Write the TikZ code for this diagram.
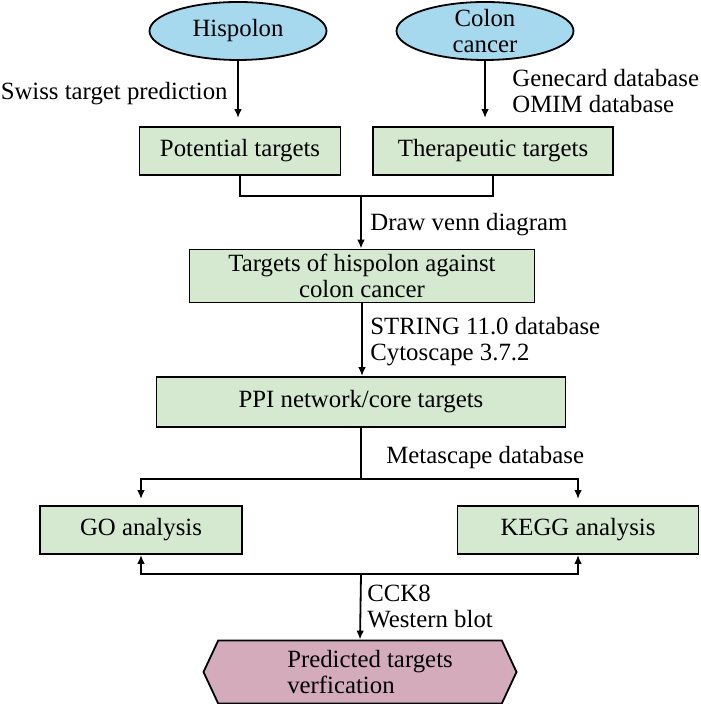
\documentclass[tikz,border=0pt]{standalone}
\usepackage{fontspec}
\setmainfont{Liberation Serif}
\usetikzlibrary{shapes.geometric,shapes.symbols,arrows.meta}
\definecolor{azul}{RGB}{166,216,238}
\definecolor{verde}{RGB}{213,232,208}
\definecolor{rosa}{RGB}{211,171,186}
\tikzset{
  elipse/.style={ellipse, draw, line width=0.9pt, fill=azul, minimum width=88.5pt, minimum height=29pt},
  caja/.style={rectangle, draw, line width=0.9pt, fill=verde, minimum height=24pt, inner ysep=1pt, align=center},
  hexa/.style={signal, signal to=west and east, signal pointer angle=130, draw, line width=0.9pt, fill=rosa, minimum width=156.5pt, minimum height=31.5pt, align=left},
  etiqueta/.style={inner sep=0pt, align=left},
  flecha/.style={line width=0.9pt, -{Latex[length=4.5pt,width=3.8pt]}},
  linea/.style={line width=0.9pt}
}
\begin{document}
\begin{tikzpicture}[x=0.5pt, y=-0.5pt, font=\fontsize{12.4pt}{13pt}\selectfont]
  \useasboundingbox (0,0) rectangle (700,704);

  % Dibujar las elipses de partida
  \node[elipse, label={[align=center]center:Hispolon}] (hisp) at (238,31) {};
  \node[elipse, label={[align=center]center:Colon\\cancer}] (colon) at (485,31) {};

  % Dibujar las cajas
  \node[caja, minimum width=100.5pt] (pot) at (240,151) {Potential targets};
  \node[caja, minimum width=120pt] (ther) at (493,151) {Therapeutic targets};
  \node[caja, minimum width=172.5pt, minimum height=26.5pt] (targ) at (362,276) {Targets of hispolon against\\colon cancer};
  \node[caja, minimum width=204.5pt, minimum height=25pt] (ppi) at (361,402) {PPI network/core targets};
  \node[caja, minimum width=101pt] (go) at (141,530) {GO analysis};
  \node[caja, minimum width=120.5pt] (kegg) at (578,530) {KEGG analysis};
  \node[hexa] (verif) at (360,672) {\hspace*{10pt}Predicted targets\\\hspace*{10pt}verfication};

  % Puntos de union
  \coordinate (union) at (361,196);
  \coordinate (split) at (361,479);
  \coordinate (merge) at (361,574);

  % Etiquetar las flechas
  \node[etiqueta, anchor=east] (swiss) at (228,94) {Swiss target prediction};
  \node[etiqueta, anchor=west] (gene) at (512,91) {Genecard database\\OMIM database};
  \node[etiqueta, anchor=west] (venn) at (370,225) {Draw venn diagram};
  \node[etiqueta, anchor=west] (string) at (370,342) {STRING 11.0 database\\Cytoscape 3.7.2};
  \node[etiqueta, anchor=west] (meta) at (386,458) {Metascape database};
  \node[etiqueta, anchor=west] (cck) at (367,606) {CCK8\\Western blot};

  % Dibujar las flechas
  \draw[flecha, shorten >=4pt] (hisp.south) -- (hisp.south |- pot.north);
  \draw[flecha, shorten >=4pt] (colon.south) -- (colon.south |- ther.north);
  \draw[linea] (pot.south) |- (union) -| (ther.south);
  \draw[flecha] (union) -- (union |- targ.north);
  \draw[flecha] (targ.south) -- (targ.south |- ppi.north);
  \draw[linea] (ppi.south) -- (split);
  \draw[flecha, shorten >=3pt] (split) -| (go.north);
  \draw[flecha, shorten >=3pt] (split) -| (kegg.north);
  \draw[flecha] (merge) -| (go.south);
  \draw[flecha] (merge) -| (kegg.south);
  \draw[flecha] (merge) -- (verif.north);
\end{tikzpicture}
\end{document}
